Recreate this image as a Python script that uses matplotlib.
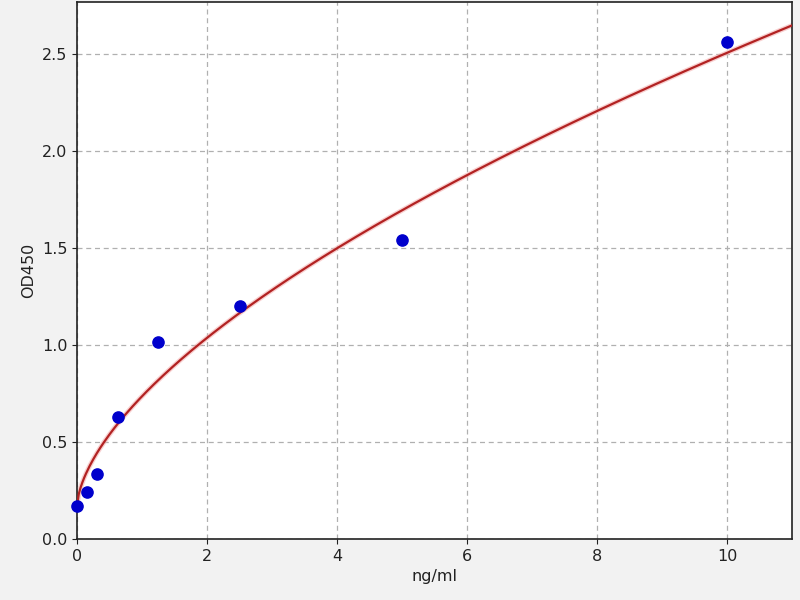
import numpy as np
import matplotlib
matplotlib.use("Agg")
import matplotlib.pyplot as plt

# Standard concentrations (ng/ml) and measured OD450
conc = [0.0, 0.156, 0.3125, 0.625, 1.25, 2.5, 5.0, 10.0]
od450 = [0.17, 0.24, 0.335, 0.63, 1.015, 1.20, 1.54, 2.565]

# Fitted curve parameters (power fit y = base + k * x^b)
fit_base = 0.17
fit_k = 0.566
fit_b = 0.616

x_ticks = [0, 2, 4, 6, 8, 10]
y_ticks = [0.0, 0.5, 1.0, 1.5, 2.0, 2.5]

fig = plt.figure(figsize=(8, 6), dpi=100, facecolor="#f2f2f2")
ax = fig.add_axes([0.09625, 0.1017, 0.8938, 0.895])
ax.set_facecolor("white")

xs = np.linspace(0, 11, 400)
ys = fit_base + fit_k * xs ** fit_b
ax.plot(xs, ys, color="#f4b0b0", linewidth=3.5, alpha=0.6, zorder=2)
ax.plot(xs, ys, color="#b22222", linewidth=1.6, zorder=3)
ax.scatter(conc, od450, s=65, color="#0000cc", zorder=4, clip_on=False)

ax.set_xlim(0, 11)
ax.set_ylim(0, 2.77)
ax.set_xticks(x_ticks)
ax.set_yticks(y_ticks)
ax.set_xticklabels([str(t) for t in x_ticks])
ax.set_yticklabels([f"{t:.1f}" for t in y_ticks])
ax.tick_params(labelsize=11.5, color="#222222", labelcolor="#222222")
ax.grid(True, linestyle=(0, (4, 3)), color="#b0b0b0", linewidth=0.9)
ax.set_axisbelow(True)
for sp in ax.spines.values():
    sp.set_color("#222222")
    sp.set_linewidth(1.2)

ax.set_xlabel("ng/ml", fontsize=11.5, color="#222222")
ax.set_ylabel("OD450", fontsize=11.5, color="#222222")

fig.savefig("out.png", dpi=100, facecolor=fig.get_facecolor())
